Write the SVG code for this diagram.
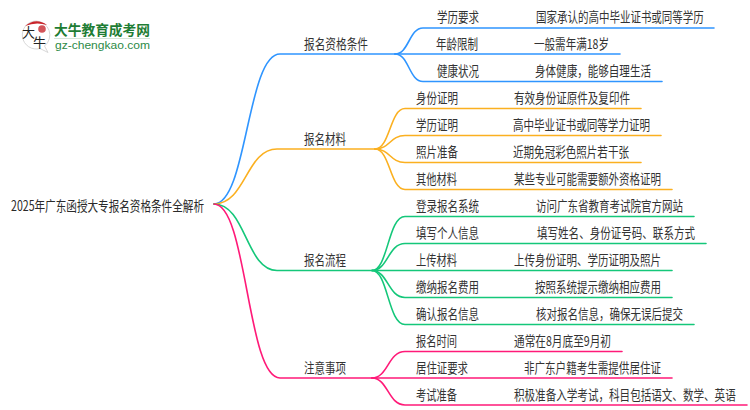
<svg xmlns="http://www.w3.org/2000/svg" width="750" height="410" viewBox="0 0 750 410">
<style>
text{font-family:"Noto Sans CJK SC","Liberation Sans",sans-serif;font-size:13.500px;fill:#333}
.c{fill:none;stroke-width:1.6;stroke-linecap:round}
.b{stroke:#2f95ff}.o{stroke:#fbb020}.g{stroke:#14c77a}.p{stroke:#ff1a78}
.r{font-size:14px;fill:#2a2a2a}
</style>
<rect width="750" height="410" fill="#fff"/>
<g id="logo">
<path d="M36 21a14 14 0 1 0 4 27.500l8 4-3.500-6.500A14 14 0 0 0 36 21z" fill="#fff" stroke="#d8d8d8" stroke-width="1"/>
<path d="M25 26Q36 17 47 25Q36 21.500 25 26z" fill="#c9242b"/>
<circle cx="42" cy="29" r="3.800" fill="#d2555a"/>
<text x="22" y="37" style="font-size:13px;font-weight:400;fill:#222">大</text>
<text x="33" y="47" style="font-size:13px;font-weight:400;fill:#222">牛</text>
<text x="54" y="35" textLength="96" lengthAdjust="spacingAndGlyphs" style="font-size:14px;font-weight:700;fill:#1e7d34">大牛教育成考网</text>
<rect x="54" y="38" width="96" height="1" fill="#d5e5d8"/>
<text x="55" y="49" textLength="95" lengthAdjust="spacingAndGlyphs" style="font-family:'Liberation Sans',sans-serif;font-size:10.500px;fill:#2c8a46">gz-chengkao.com</text>
</g>
<g id="connectors">
<path class="c b" d="M214 204C247 204 247 54 280 54L395 54"/>
<path class="c o" d="M214 204C246 204 246 149 277 149L375 149"/>
<path class="c g" d="M214 204C246 204 246 270.500 277 270.500L372 270.500"/>
<path class="c p" d="M214 204C247 204 247 378 280 378L372 378"/>
<path class="c b" d="M395 54C409 54 409 28 423 28L714 28"/>
<path class="c b" d="M395 54L620 54"/>
<path class="c b" d="M395 54C409 54 409 81.500 423 81.500L662 81.500"/>
<path class="c o" d="M375 149C390 149 390 108.500 405 108.500L641 108.500"/>
<path class="c o" d="M375 149C390 149 390 135.500 405 135.500L661 135.500"/>
<path class="c o" d="M375 149C390 149 390 162.500 405 162.500L641 162.500"/>
<path class="c o" d="M375 149C390 149 390 189.500 405 189.500L672 189.500"/>
<path class="c g" d="M372 270.500C388 270.500 388 216.500 405 216.500L694 216.500"/>
<path class="c g" d="M372 270.500C388 270.500 388 243.500 405 243.500L706 243.500"/>
<path class="c g" d="M372 270.500L672 270.500"/>
<path class="c g" d="M372 270.500C388 270.500 388 297.500 405 297.500L672 297.500"/>
<path class="c g" d="M372 270.500C388 270.500 388 324.500 405 324.500L694 324.500"/>
<path class="c p" d="M372 378C388 378 388 351.500 405 351.500L622 351.500"/>
<path class="c p" d="M372 378L672 378"/>
<path class="c p" d="M372 378C388 378 388 405 405 405L747 405"/>
</g>
<g id="root"><text class="r" x="11" y="211" textLength="193" lengthAdjust="spacingAndGlyphs">2025年广东函授大专报名资格条件全解析</text></g>
<g id="n1"><text x="304" y="48.500" textLength="64" lengthAdjust="spacingAndGlyphs">报名资格条件</text>
<g id="n1-1"><text x="437" y="21.500" textLength="42" lengthAdjust="spacingAndGlyphs">学历要求</text><text transform="matrix(0.7780 0 0 1 536 21.500)" x="0" y="0">国家承认的高中毕业证书或同等学历</text></g>
<g id="n1-2"><text x="436" y="48.500" textLength="42" lengthAdjust="spacingAndGlyphs">年龄限制</text><text x="534" y="48.500" textLength="75" lengthAdjust="spacingAndGlyphs">一般需年满18岁</text></g>
<g id="n1-3"><text x="437" y="76" textLength="42" lengthAdjust="spacingAndGlyphs">健康状况</text><text x="535" y="76" textLength="116" lengthAdjust="spacingAndGlyphs">身体健康，能够自理生活</text></g></g>
<g id="n2"><text x="304" y="143.500" textLength="42" lengthAdjust="spacingAndGlyphs">报名材料</text>
<g id="n2-1"><text x="416" y="102.500" textLength="42" lengthAdjust="spacingAndGlyphs">身份证明</text><text x="514" y="102.500" textLength="116" lengthAdjust="spacingAndGlyphs">有效身份证原件及复印件</text></g>
<g id="n2-2"><text x="416" y="129.500" textLength="42" lengthAdjust="spacingAndGlyphs">学历证明</text><text x="513" y="129.500" textLength="137" lengthAdjust="spacingAndGlyphs">高中毕业证书或同等学力证明</text></g>
<g id="n2-3"><text x="416" y="156.500" textLength="42" lengthAdjust="spacingAndGlyphs">照片准备</text><text x="513" y="156.500" textLength="116" lengthAdjust="spacingAndGlyphs">近期免冠彩色照片若干张</text></g>
<g id="n2-4"><text x="416" y="183.500" textLength="41" lengthAdjust="spacingAndGlyphs">其他材料</text><text x="514" y="183.500" textLength="147" lengthAdjust="spacingAndGlyphs">某些专业可能需要额外资格证明</text></g></g>
<g id="n3"><text x="304" y="264.500" textLength="42" lengthAdjust="spacingAndGlyphs">报名流程</text>
<g id="n3-1"><text x="416" y="210.500" textLength="63" lengthAdjust="spacingAndGlyphs">登录报名系统</text><text x="536" y="210.500" textLength="147" lengthAdjust="spacingAndGlyphs">访问广东省教育考试院官方网站</text></g>
<g id="n3-2"><text x="416" y="238" textLength="63" lengthAdjust="spacingAndGlyphs">填写个人信息</text><text x="537" y="238" textLength="158" lengthAdjust="spacingAndGlyphs">填写姓名、身份证号码、联系方式</text></g>
<g id="n3-3"><text x="416" y="264.500" textLength="41" lengthAdjust="spacingAndGlyphs">上传材料</text><text x="514" y="264.500" textLength="147" lengthAdjust="spacingAndGlyphs">上传身份证明、学历证明及照片</text></g>
<g id="n3-4"><text x="416" y="291.500" textLength="63" lengthAdjust="spacingAndGlyphs">缴纳报名费用</text><text x="535" y="291.500" textLength="126" lengthAdjust="spacingAndGlyphs">按照系统提示缴纳相应费用</text></g>
<g id="n3-5"><text x="416" y="318.500" textLength="63" lengthAdjust="spacingAndGlyphs">确认报名信息</text><text x="536" y="318.500" textLength="147" lengthAdjust="spacingAndGlyphs">核对报名信息，确保无误后提交</text></g></g>
<g id="n4"><text x="304" y="372.500" textLength="42" lengthAdjust="spacingAndGlyphs">注意事项</text>
<g id="n4-1"><text x="416" y="345.500" textLength="41" lengthAdjust="spacingAndGlyphs">报名时间</text><text x="514" y="345.500" textLength="97" lengthAdjust="spacingAndGlyphs">通常在8月底至9月初</text></g>
<g id="n4-2"><text x="416" y="372.500" textLength="52" lengthAdjust="spacingAndGlyphs">居住证要求</text><text x="524" y="372.500" textLength="137" lengthAdjust="spacingAndGlyphs">非广东户籍考生需提供居住证</text></g>
<g id="n4-3"><text x="416" y="399.500" textLength="41" lengthAdjust="spacingAndGlyphs">考试准备</text><text transform="matrix(0.7830 0 0 1 514 399.500)" x="0" y="0">积极准备入学考试，科目包括语文、数学、英语</text></g></g>
</svg>
